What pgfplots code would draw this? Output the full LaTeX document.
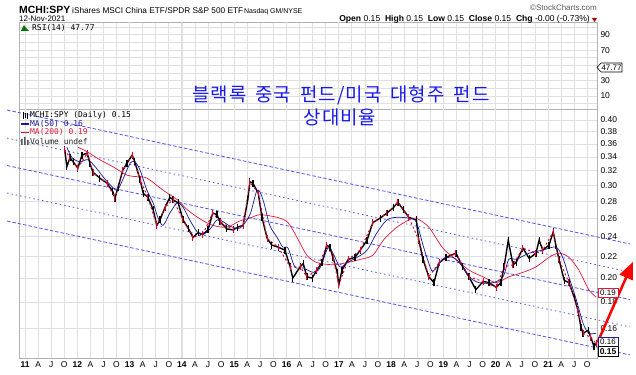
\documentclass[border=0pt]{standalone}
\usepackage{pgfplots}
\usepackage{pgfplotstable}
\pgfplotsset{compat=1.18}
\usepackage{fontspec}
\setmainfont{Liberation Sans}
\newfontfamily\mono{DejaVu Sans Mono}
\newfontfamily\kr[LetterSpace=5]{Noto Sans CJK KR}
\usetikzlibrary{arrows.meta}
\definecolor{chblue}{RGB}{85,85,245}
\definecolor{mablue}{RGB}{25,25,150}
\definecolor{mared}{RGB}{220,25,60}
\definecolor{candred}{RGB}{225,0,40}
\definecolor{krblue}{RGB}{25,25,235}
\definecolor{gridc}{RGB}{224,224,224}
\definecolor{gridy}{RGB}{200,200,200}

\pgfplotstableread{
yr v
2011.76 0.351
2011.80 0.326
2011.86 0.339
2011.92 0.333
2012.01 0.324
2012.09 0.343
2012.19 0.346
2012.24 0.331
2012.30 0.318
2012.43 0.310
2012.57 0.303
2012.68 0.292
2012.72 0.284
2012.78 0.298
2012.87 0.321
2012.95 0.331
2013.05 0.343
2013.10 0.333
2013.20 0.308
2013.26 0.290
2013.35 0.285
2013.45 0.270
2013.52 0.252
2013.58 0.258
2013.68 0.273
2013.77 0.285
2013.83 0.282
2013.93 0.278
2014.02 0.258
2014.12 0.249
2014.21 0.239
2014.31 0.244
2014.40 0.242
2014.50 0.247
2014.59 0.266
2014.67 0.264
2014.73 0.256
2014.86 0.248
2014.98 0.247
2015.07 0.250
2015.17 0.252
2015.26 0.282
2015.30 0.305
2015.36 0.303
2015.46 0.290
2015.53 0.261
2015.63 0.238
2015.72 0.231
2015.84 0.229
2015.97 0.226
2016.07 0.210
2016.12 0.200
2016.26 0.210
2016.32 0.213
2016.39 0.201
2016.49 0.200
2016.58 0.207
2016.68 0.214
2016.77 0.231
2016.83 0.229
2016.89 0.219
2016.97 0.205
2017.00 0.194
2017.06 0.207
2017.18 0.217
2017.31 0.219
2017.41 0.226
2017.54 0.236
2017.65 0.255
2017.79 0.260
2017.92 0.266
2018.04 0.272
2018.13 0.279
2018.23 0.270
2018.34 0.261
2018.48 0.258
2018.53 0.236
2018.61 0.217
2018.72 0.201
2018.82 0.196
2018.92 0.214
2019.05 0.219
2019.24 0.223
2019.37 0.210
2019.49 0.201
2019.62 0.190
2019.76 0.197
2019.87 0.196
2020.01 0.192
2020.10 0.196
2020.16 0.210
2020.24 0.236
2020.33 0.212
2020.39 0.214
2020.52 0.228
2020.64 0.218
2020.77 0.223
2020.83 0.236
2020.90 0.226
2021.02 0.231
2021.10 0.245
2021.15 0.231
2021.21 0.217
2021.31 0.198
2021.40 0.196
2021.50 0.184
2021.57 0.174
2021.63 0.161
2021.67 0.157
2021.77 0.159
2021.82 0.154
2021.88 0.148
2021.92 0.150
}\price

\pgfplotsset{
  basepanel/.style={scale only axis, width=578bp, xmin=2010.885, xmax=2021.937,
    axis line style={gray!60, line width=0.6pt},
    major tick length=0pt, minor tick length=0pt,
    xtick={2011,2011.25,...,2021.8},
    grid=major, major grid style={gridc, line width=0.8pt},
    extra x ticks={2011,2012,...,2021}, extra x tick labels={},
    extra x tick style={grid style={gridy, line width=1pt}},
    tick label style={font=\fontsize{8.5}{10}\selectfont},
    /pgf/number format/assume math mode=true,
    yticklabel pos=right,
  }
}

\begin{document}
\begin{tikzpicture}
\useasboundingbox (0bp,0bp) rectangle (636bp,375bp);
\fill[white] (0bp,0bp) rectangle (636bp,375bp);

% RSI panel
\begin{axis}[basepanel, at={(19bp,266bp)}, anchor=south west, height=87bp,
  ymin=-6.9, ymax=106.8, ytick={0,10,...,100},
  yticklabels={,10,,30,,,,70,,90,}, xticklabels={}]
\end{axis}

% Price panel
\begin{axis}[basepanel, at={(19bp,17bp)}, anchor=south west, height=249bp,
  ymode=log, ymin=0.1408, ymax=0.4198,
  ytick={0.16,0.18,0.20,0.22,0.24,0.26,0.28,0.30,0.32,0.34,0.36,0.38,0.40},
  yticklabels={0.16,0.18,0.20,0.22,0.24,0.26,0.28,0.30,0.32,0.34,0.36,0.38,0.40},
  xticklabels={\textbf{11},A,J,O,\textbf{12},A,J,O,\textbf{13},A,J,O,\textbf{14},A,J,O,\textbf{15},A,J,O,\textbf{16},A,J,O,\textbf{17},A,J,O,\textbf{18},A,J,O,\textbf{19},A,J,O,\textbf{20},A,J,O,\textbf{21},A,J,O},
  clip=false]
% trend channel
\addplot[chblue, line width=0.8pt, dash pattern=on 3.5pt off 2pt] coordinates {(2010.656,0.4179) (2022.568,0.2322)};
\addplot[chblue, line width=0.8pt, dash pattern=on 1.5pt off 3pt] coordinates {(2010.656,0.3696) (2022.568,0.2053)};
\addplot[chblue, line width=0.8pt, dash pattern=on 3.5pt off 2pt] coordinates {(2010.656,0.3276) (2022.568,0.1820)};
\addplot[chblue, line width=0.8pt, dash pattern=on 1.5pt off 3pt] coordinates {(2010.656,0.2904) (2022.568,0.1614)};
\addplot[chblue, line width=0.8pt, dash pattern=on 3.5pt off 2pt] coordinates {(2010.656,0.2568) (2022.568,0.1427)};
% price (candles approximated)
\addplot[black, line width=1.4pt, mark=|, mark size=3.5pt, mark options={line width=1.2pt, solid}] table[x=yr, y=v] {\price};
\addplot[candred, line width=1pt, dash pattern=on 2pt off 2.5pt, mark=|, mark size=3.2pt, each nth point=2, mark options={line width=1pt, solid}] table[x=yr, y=v] {\price};
% MA(200)
\addplot[mared, line width=0.7pt, smooth] coordinates {
(2012.01,0.355)(2012.19,0.348)(2012.43,0.336)(2012.68,0.326)(2012.95,0.314)(2013.14,0.312)(2013.33,0.310)(2013.64,0.294)(2013.91,0.282)(2014.10,0.270)(2014.35,0.259)(2014.59,0.252)(2014.86,0.250)(2015.11,0.257)(2015.30,0.260)(2015.49,0.264)(2015.82,0.261)(2016.01,0.256)(2016.12,0.247)(2016.26,0.233)(2016.39,0.221)(2016.58,0.214)(2016.89,0.212)(2017.16,0.214)(2017.41,0.217)(2017.65,0.221)(2017.85,0.236)(2018.09,0.249)(2018.34,0.258)(2018.48,0.260)(2018.72,0.250)(2018.99,0.228)(2019.24,0.217)(2019.49,0.207)(2019.76,0.201)(2020.01,0.196)(2020.25,0.201)(2020.52,0.205)(2020.77,0.210)(2021.02,0.219)(2021.21,0.223)(2021.40,0.219)(2021.59,0.207)(2021.78,0.190)(2021.92,0.184)};
% MA(50)
\addplot[mablue, line width=0.7pt, smooth] coordinates {
(2011.80,0.355)(2011.90,0.339)(2012.05,0.333)(2012.20,0.336)(2012.34,0.326)(2012.49,0.312)(2012.63,0.301)(2012.76,0.294)(2012.87,0.308)(2013.01,0.331)(2013.10,0.333)(2013.20,0.321)(2013.33,0.294)(2013.45,0.278)(2013.54,0.261)(2013.64,0.252)(2013.77,0.266)(2013.91,0.278)(2014.02,0.273)(2014.15,0.258)(2014.29,0.245)(2014.40,0.242)(2014.54,0.248)(2014.67,0.258)(2014.79,0.256)(2014.92,0.251)(2015.11,0.249)(2015.30,0.264)(2015.44,0.294)(2015.55,0.282)(2015.68,0.252)(2015.82,0.239)(2015.93,0.229)(2016.03,0.228)(2016.16,0.210)(2016.32,0.209)(2016.51,0.205)(2016.64,0.209)(2016.79,0.228)(2016.89,0.223)(2017.02,0.210)(2017.16,0.214)(2017.35,0.219)(2017.54,0.226)(2017.73,0.244)(2017.92,0.258)(2018.11,0.261)(2018.34,0.260)(2018.48,0.256)(2018.61,0.231)(2018.71,0.215)(2018.80,0.206)(2018.99,0.217)(2019.18,0.219)(2019.37,0.210)(2019.49,0.201)(2019.68,0.196)(2019.95,0.196)(2020.14,0.201)(2020.25,0.217)(2020.39,0.217)(2020.64,0.223)(2020.90,0.226)(2021.15,0.229)(2021.28,0.219)(2021.40,0.201)(2021.54,0.182)(2021.67,0.164)(2021.78,0.157)(2021.92,0.157)};
% arrow annotation
\draw[red, line width=2.5bp, -{Triangle[length=17bp,width=14bp]}] (axis cs:2021.95,0.151) -- (axis cs:2022.625,0.2146);
\end{axis}

\begin{scope}[x=1bp,y=1bp]
% header texts
\node[anchor=base west, inner sep=0, font=\bfseries\fontsize{10.5}{12}\selectfont] at (19,362) {MCHI:SPY};
\node[anchor=base west, inner sep=0, font=\fontsize{8.3}{10}\selectfont] at (72,362) {iShares MSCI China ETF/SPDR S\&P 500 ETF};
\node[anchor=base west, inner sep=0, font=\fontsize{7}{8}\selectfont] at (244,362) {Nasdaq GM/NYSE};
\node[anchor=base west, inner sep=0, font=\fontsize{8}{9}\selectfont] at (19,354) {12-Nov-2021};
\node[anchor=base east, inner sep=0, text=gray!70!black, font=\fontsize{8}{9}\selectfont] at (597,365) {\textcopyright StockCharts.com};
\node[anchor=base east, inner sep=0, font=\fontsize{8.6}{9}\selectfont] at (590,354) {\textbf{Open} 0.15 \ \textbf{High} 0.15 \ \textbf{Low} 0.15 \ \textbf{Close} 0.15 \ \textbf{Chg} -0.00 (-0.73\%)};
\fill[red!70!black] (592,357) -- (597,357) -- (594.5,353) -- cycle;

% RSI label
\fill[green!45!black] (21,344) -- (24,350) -- (26,347) -- (29,344) -- cycle;
\node[anchor=west, inner sep=0, font=\mono\fontsize{8}{9}\selectfont] at (32,346.7) {RSI(14) 47.77};
\draw[black, fill=white, line width=0.6pt] (597,307.5) -- (601,312) -- (622,312) -- (622,303) -- (601,303) -- cycle;
\node[font=\fontsize{8}{9}\selectfont, inner sep=0] at (611.5,307.5) {47.77};

% price legend
\draw[black, line width=1pt] (23,256)--(23,263) (25,257)--(25,262) (27,256)--(27,262);
\node[anchor=west, inner sep=0, font=\mono\fontsize{8}{9}\selectfont] at (30,260) {MCHI:SPY (Daily) 0.15};
\draw[mablue, line width=1.5pt] (21,251)--(29,251);
\node[anchor=west, inner sep=0, text=mablue, font=\mono\fontsize{8}{9}\selectfont] at (30,251) {MA(50) 0.16};
\draw[mared, line width=1.5pt] (21,242.5)--(29,242.5);
\node[anchor=west, inner sep=0, text=mared, font=\mono\fontsize{8}{9}\selectfont] at (30,242.5) {MA(200) 0.19};
\fill[gray!70!black] (21,230) rectangle (22.5,236) (24,230) rectangle (25.5,238) (27,230) rectangle (28.5,235);
\node[anchor=west, inner sep=0, text=gray!30!black, font=\mono\fontsize{8}{9}\selectfont] at (30,233.5) {Volume undef};

% last-value boxes
\draw[mared, fill=white, line width=0.6pt] (598,78) rectangle (618,87);
\node[font=\fontsize{8}{9}\selectfont, inner sep=0] at (608,82.5) {0.19};
\draw[mablue, fill=white, line width=0.6pt] (598,29) rectangle (618,38);
\node[font=\fontsize{8}{9}\selectfont, inner sep=0] at (608,33.5) {0.16};
\draw[black, fill=white, line width=0.6pt] (598,19) rectangle (618,28.5);
\node[font=\bfseries\fontsize{8.5}{9}\selectfont, inner sep=0] at (608,23.7) {0.15};

% Korean annotation
\node[anchor=base, inner sep=0, text=krblue, font=\kr\fontsize{19}{21}\selectfont] at (341,274) {블랙록\hspace{4bp} 중국\hspace{4bp} 펀드/미국\hspace{4bp} 대형주\hspace{4bp} 펀드};
\node[anchor=base, inner sep=0, text=krblue, font=\kr\fontsize{19}{21}\selectfont] at (340,251) {상대비율};
\end{scope}
\end{tikzpicture}
\end{document}
